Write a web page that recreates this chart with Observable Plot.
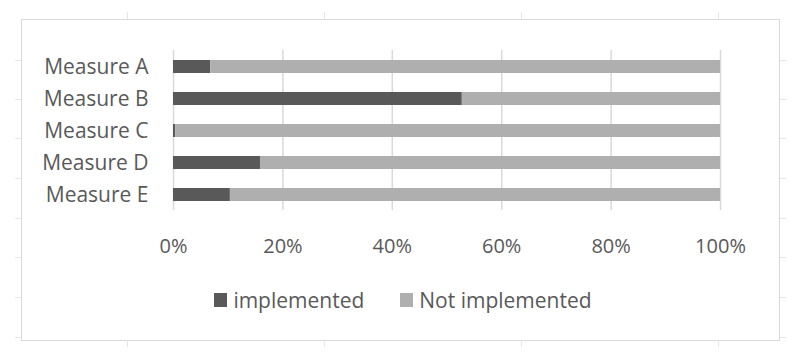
<!DOCTYPE html>
<html>
<head>
<meta charset="utf-8">
<script src="https://cdn.jsdelivr.net/npm/d3@7"></script>
<script src="https://cdn.jsdelivr.net/npm/@observablehq/plot@0.6"></script>
<style>
  html, body { margin: 0; padding: 0; background: #fff; }
  body { width: 800px; height: 357px; position: relative; overflow: hidden; font-family: "Open Sans", "Noto Sans", sans-serif; color: #595959; }
  #frame { position: absolute; left: 21px; top: 19px; width: 759px; height: 322px; border: 1px solid #d9d9d9; box-sizing: border-box; }
  .tk { position: absolute; background: #e6e6e6; }
  #chart { position: absolute; left: 0; top: 0; }
  #legend { position: absolute; left: 0; top: 286px; width: 800px; display: flex; justify-content: center; font-size: 21px; color: #595959; padding-left: 6px; box-sizing: border-box; }
  .item { display: flex; align-items: center; margin: 0 18px; }
  .sw { width: 13px; height: 14px; margin-right: 6px; }
</style>
</head>
<body>
<div id="frame"></div>
<div id="deco"></div>
<div id="chart"></div>
<div id="legend"></div>
<script>
const measures = ["Measure A", "Measure B", "Measure C", "Measure D", "Measure E"];
const series = ["implemented", "Not implemented"];
const implemented = [6.8, 52.8, 0.4, 15.9, 10.4];
const notImplemented = [93.2, 47.2, 99.6, 84.1, 89.6];
const colors = ["#595959", "#afafaf"];
const xTicks = [0, 20, 40, 60, 80, 100];

const rows = [];
measures.forEach((m, i) => {
  rows.push({measure: m, status: series[0], value: implemented[i]});
  rows.push({measure: m, status: series[1], value: notImplemented[i]});
});

// faint spreadsheet cell-edge marks around the frame (decoration)
const deco = document.getElementById("deco");
[127, 324, 521, 718].forEach(x => {
  [[12, 7], [340, 7]].forEach(([y, h]) => {
    const d = document.createElement("div");
    d.className = "tk";
    Object.assign(d.style, {left: x + "px", top: y + "px", width: "1px", height: h + "px"});
    deco.appendChild(d);
  });
});
[60, 99, 138, 178, 218, 257, 297, 337].forEach(y => {
  [[15, 6], [780, 6]].forEach(([x, w]) => {
    const d = document.createElement("div");
    d.className = "tk";
    Object.assign(d.style, {left: x + "px", top: y + "px", width: w + "px", height: "1px"});
    deco.appendChild(d);
  });
});

const chart = Plot.plot({
  width: 800,
  height: 270,
  marginLeft: 173,
  marginRight: 80,
  marginTop: 50,
  marginBottom: 60,
  style: {fontFamily: "'Open Sans', 'Noto Sans', sans-serif", fontSize: "20px", color: "#595959", background: "transparent"},
  x: {domain: [0, 100], ticks: xTicks, tickFormat: d => d + "%", label: null},
  y: {domain: measures, paddingInner: 0.6, paddingOuter: 0.3, label: null},
  color: {domain: series, range: colors},
  marks: [
    Plot.gridX(xTicks, {stroke: "#d9d9d9", strokeOpacity: 1, strokeWidth: 1.5}),
    Plot.barX(rows, Plot.stackX({y: "measure", x: "value", fill: "status", order: series})),
    Plot.axisX({ticks: xTicks, tickFormat: d => d + "%", tickSize: 0, tickPadding: 28, fontSize: 20, fill: "#595959"}),
    Plot.axisY({tickSize: 0, tickPadding: 25, fontSize: 21, fill: "#595959"})
  ]
});
document.getElementById("chart").appendChild(chart);

const legend = document.getElementById("legend");
series.forEach((s, i) => {
  const item = document.createElement("div");
  item.className = "item";
  const sw = document.createElement("div");
  sw.className = "sw";
  sw.style.background = colors[i];
  const t = document.createElement("span");
  t.textContent = s;
  item.appendChild(sw);
  item.appendChild(t);
  legend.appendChild(item);
});
</script>
</body>
</html>
